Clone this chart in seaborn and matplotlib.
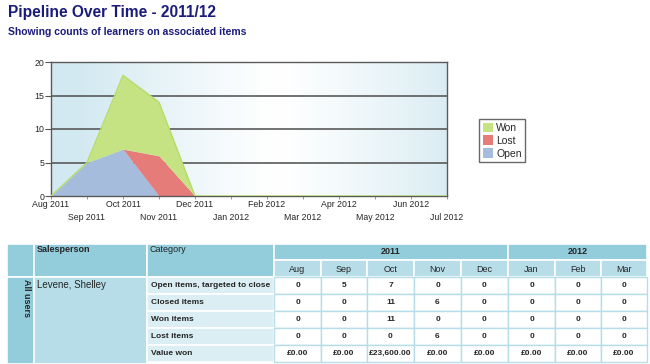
import matplotlib
matplotlib.use('Agg')
import matplotlib.pyplot as plt
from matplotlib.patches import Rectangle
import numpy as np
import seaborn as sns

# chart data
months = ['Aug 2011', 'Sep 2011', 'Oct 2011', 'Nov 2011', 'Dec 2011', 'Jan 2012',
          'Feb 2012', 'Mar 2012', 'Apr 2012', 'May 2012', 'Jun 2012', 'Jul 2012']
open_counts = [0, 5, 7, 0, 0, 0, 0, 0, 0, 0, 0, 0]
lost_counts = [0, 0, 0, 6, 0, 0, 0, 0, 0, 0, 0, 0]
won_counts = [0, 0, 11, 8, 0, 0, 0, 0, 0, 0, 0, 0]

# table data
table_years = ['2011', '2012']
table_year_spans = [5, 3]
table_months = ['Aug', 'Sep', 'Oct', 'Nov', 'Dec', 'Jan', 'Feb', 'Mar']
salesperson = 'Levene, Shelley'
categories = ['Open items, targeted to close', 'Closed items', 'Won items', 'Lost items', 'Value won']
table_values = [
    ['0', '5', '7', '0', '0', '0', '0', '0'],
    ['0', '0', '11', '6', '0', '0', '0', '0'],
    ['0', '0', '11', '0', '0', '0', '0', '0'],
    ['0', '0', '0', '6', '0', '0', '0', '0'],
    ['£0.00', '£0.00', '£23,600.00', '£0.00', '£0.00', '£0.00', '£0.00', '£0.00'],
]

sns.set_style('white')
plt.rcParams['font.family'] = ['Liberation Sans', 'DejaVu Sans']

W, H = 650, 364
fig = plt.figure(figsize=(W / 100, H / 100), dpi=100)
navy = '#1b1b7d'
fig.text(8 / W, 1 - 12 / H, 'Pipeline Over Time - 2011/12', fontsize=11.2, fontweight='bold',
         color=navy, va='center', ha='left')
fig.text(8 / W, 1 - 32 / H, 'Showing counts of learners on associated items', fontsize=7.5,
         fontweight='bold', color=navy, va='center', ha='left')

# chart
ax = fig.add_axes([51 / W, 1 - 196 / H, 396 / W, 134 / H])
x = np.arange(len(months))
grad = np.abs(np.linspace(-1.15, 0.85, 256)) ** 1.2
cmap = matplotlib.colors.LinearSegmentedColormap.from_list('bg', ['#ffffff', '#d3e9f1'])
ax.imshow(grad[np.newaxis, :], extent=[0, len(months) - 1, 0, 20], aspect='auto',
          cmap=cmap, vmin=0, vmax=1, zorder=0)
colors = ['#a5bcdc', '#e67c7a', '#c6e384']
polys = ax.stackplot(x, open_counts, lost_counts, won_counts, colors=colors, zorder=2, linewidth=0)
top = np.array(open_counts) + np.array(lost_counts) + np.array(won_counts)
sns.lineplot(x=x, y=top, ax=ax, color='#b5dc6a', linewidth=1, zorder=3, legend=False)
for yv in [5, 10, 15]:
    ax.axhline(yv, color='#5a5a5a', linewidth=1.2, zorder=1)
ax.set_xlim(0, len(months) - 1)
ax.set_ylim(0, 20)
ax.set_yticks([0, 5, 10, 15, 20])
ax.set_xticks(x)
ax.set_xticklabels([m if i % 2 == 0 else '\n' + m for i, m in enumerate(months)],
                   fontsize=6.3, linespacing=1.55)
ax.tick_params(axis='y', labelsize=6.3, length=4, width=0.8, color='#555555', pad=1, direction='out', left=True)
ax.tick_params(axis='x', length=2, width=0.6, color='#888888', pad=1, direction='out', bottom=True)
for s in ax.spines.values():
    s.set_color('#5a5a5a')
    s.set_linewidth(1)
leg = fig.legend([polys[2], polys[1], polys[0]], ['Won', 'Lost', 'Open'], loc='upper left',
                 bbox_to_anchor=(479 / W, 1 - 119 / H),
                 fontsize=7.5, frameon=True, fancybox=False, edgecolor='#444444',
                 handlelength=0.95, handleheight=1.0, handletextpad=0.35, borderpad=0.35,
                 labelspacing=0.25, borderaxespad=0)
leg.get_frame().set_linewidth(1)

# table (pixel coordinates overlay)
tx = fig.add_axes([0, 0, 1, 1])
tx.set_xlim(0, W)
tx.set_ylim(H, 0)
tx.axis('off')
dark, mid, light = '#93cddc', '#b6dde8', '#daeef3'


def cell(x0, y0, x1, y1, fc, ec='white', lw=1.2):
    tx.add_patch(Rectangle((x0, y0), x1 - x0, y1 - y0, facecolor=fc, edgecolor=ec, linewidth=lw))


col_edges = [274, 321, 367, 414, 461, 508, 555, 601, 647]
top_y, year_y, month_y = 244, 260, 277
row_edges = [277, 294, 311, 328, 345, 362]

cell(7, top_y, 34, month_y, dark)
cell(34, top_y, 147, month_y, dark)
cell(147, top_y, 274, month_y, dark)
tx.text(37, 250, 'Salesperson', fontsize=6.5, fontweight='bold', va='center', ha='left')
tx.text(150, 250, 'Category', fontsize=6.5, va='center', ha='left')
start = 0
for yr, span in zip(table_years, table_year_spans):
    x0, x1 = col_edges[start], col_edges[start + span]
    cell(x0, top_y, x1, year_y, dark)
    tx.text((x0 + x1) / 2, (top_y + year_y) / 2, yr, fontsize=6.5, fontweight='bold', ha='center', va='center')
    start += span
for i, m in enumerate(table_months):
    x0, x1 = col_edges[i], col_edges[i + 1]
    cell(x0, year_y, x1, month_y, mid)
    tx.text((x0 + x1) / 2, (year_y + month_y) / 2 + 1, m, fontsize=6.5, ha='center', va='center')

cell(7, month_y, 34, 364, dark)
tx.text(26, 279, 'All users', fontsize=6.5, fontweight='bold', rotation=-90, ha='center', va='top')
cell(34, month_y, 147, 364, mid)
tx.text(37, 285, salesperson, fontsize=7, ha='left', va='center')
for r, cat in enumerate(categories):
    y0, y1 = row_edges[r], row_edges[r + 1]
    cell(147, y0, 274, y1, light)
    tx.text(151, (y0 + y1) / 2, cat, fontsize=6, fontweight='bold', ha='left', va='center')
    for c, val in enumerate(table_values[r]):
        x0, x1 = col_edges[c], col_edges[c + 1]
        cell(x0, y0, x1, y1, 'white', ec=mid, lw=1)
        tx.text((x0 + x1) / 2, (y0 + y1) / 2, val, fontsize=6, fontweight='bold', ha='center', va='center')

fig.savefig('out.png', dpi=100)
